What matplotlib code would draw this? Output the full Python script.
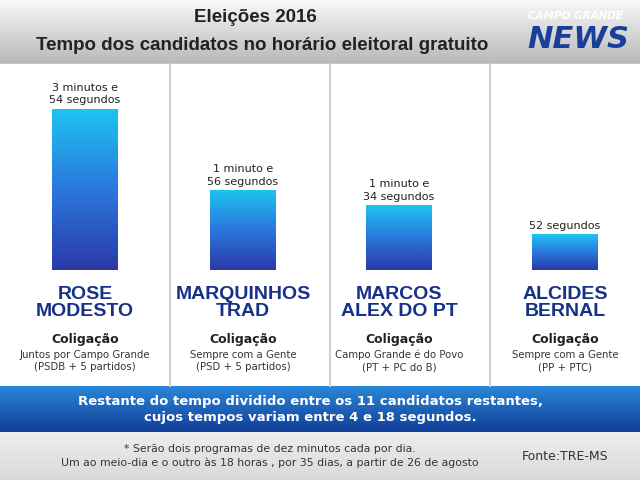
import numpy as np
import matplotlib
matplotlib.use("Agg")
import matplotlib.pyplot as plt
from matplotlib.patches import Rectangle
from matplotlib.colors import LinearSegmentedColormap

candidates = ["ROSE\nMODESTO", "MARQUINHOS\nTRAD", "MARCOS\nALEX DO PT", "ALCIDES\nBERNAL"]
seconds = [234, 116, 94, 52]
time_labels = ["3 minutos e\n54 segundos", "1 minuto e\n56 segundos", "1 minuto e\n34 segundos", "52 segundos"]
coalitions = ["Juntos por Campo Grande\n(PSDB + 5 partidos)", "Sempre com a Gente\n(PSD + 5 partidos)",
              "Campo Grande é do Povo\n(PT + PC do B)", "Sempre com a Gente\n(PP + PTC)"]

W, H = 640, 480
fig = plt.figure(figsize=(6.4, 4.8), dpi=100)
bg = fig.add_axes([0, 0, 1, 1])
bg.set_xlim(0, W); bg.set_ylim(H, 0); bg.axis("off")

hdr = np.linspace(0.97, 0.72, 64)[:, None] * np.ones((64, 2))
bg.imshow(hdr, extent=[0, W, 64, 0], cmap="gray", vmin=0, vmax=1, aspect="auto", zorder=0)
bg.add_patch(Rectangle((0, 64), W, 322, color="white", zorder=0))
for x in [170, 330, 490]:
    bg.plot([x, x], [64, 386], color="#cfcfcf", lw=1.5, zorder=1)
bg.text(255, 18, "Eleições 2016", ha="center", va="center", fontsize=13.5, fontweight="bold", color="#222222", family="Liberation Sans")
bg.text(262, 45, "Tempo dos candidatos no horário eleitoral gratuito", ha="center", va="center", fontsize=13.5, fontweight="bold", color="#222222", family="Liberation Sans")
bg.text(575, 16, "CAMPO GRANDE", ha="center", va="center", fontsize=7.5, fontweight="bold", style="italic", color="white")
bg.text(578, 40, "NEWS", ha="center", va="center", fontsize=22, fontweight="bold", style="italic", color="#1a3f9a")

band = np.linspace(0, 1, 50)[:, None] * np.ones((50, 2))
bcm = LinearSegmentedColormap.from_list("b", ["#2a86d8", "#123f98"])
bg.imshow(band, extent=[0, W, 432, 386], cmap=bcm, aspect="auto", zorder=0)
bg.text(310, 409, "Restante do tempo dividido entre os 11 candidatos restantes,\ncujos tempos variam entre 4 e 18 segundos.",
        ha="center", va="center", fontsize=9.5, fontweight="bold", color="white", linespacing=1.3)
foot = np.linspace(0.93, 0.85, 48)[:, None] * np.ones((48, 2))
bg.imshow(foot, extent=[0, W, H, 432], cmap="gray", vmin=0, vmax=1, aspect="auto", zorder=0)
bg.text(270, 456, "* Serão dois programas de dez minutos cada por dia.\nUm ao meio-dia e o outro às 18 horas , por 35 dias, a partir de 26 de agosto",
        ha="center", va="center", fontsize=7.8, color="#333333", linespacing=1.4)
bg.text(565, 456, "Fonte:TRE-MS", ha="center", va="center", fontsize=9, color="#333333")

centers = [85, 243, 399, 565]
for c, name, coal in zip(centers, candidates, coalitions):
    bg.text(c, 303, name, ha="center", va="center", fontsize=14, fontweight="bold", color="#16318a",
            family="Liberation Sans", linespacing=1.0)
    bg.text(c, 339, "Coligação", ha="center", va="center", fontsize=9, fontweight="bold", color="#222222")
    bg.text(c, 361, coal, ha="center", va="center", fontsize=7.3, color="#333333", linespacing=1.3)

ax = fig.add_axes([0, (H - 270) / H, 1, 200 / H])
ax.set_xlim(0, W); ax.set_ylim(0, 200 / 0.69); ax.axis("off"); ax.patch.set_alpha(0)
cmap = LinearSegmentedColormap.from_list("g", ["#2a3aa8", "#2a78dc", "#1ec4f0"])
grad = np.linspace(0, 1, 100)[:, None] * np.ones((100, 2))
bars = ax.bar(centers, seconds, width=66, color="none")
for b, lab in zip(bars, time_labels):
    x0, w, h = b.get_x(), b.get_width(), b.get_height()
    im = ax.imshow(grad, extent=[x0, x0 + w, 0, h], origin="lower", cmap=cmap, aspect="auto")
    im.set_clip_path(b)
    ax.text(x0 + w / 2, h + 5, lab, ha="center", va="bottom", fontsize=8, color="#222222", linespacing=1.3)
ax.set_xlim(0, W); ax.set_ylim(0, 200 / 0.69)

fig.savefig("out.png", dpi=100)
